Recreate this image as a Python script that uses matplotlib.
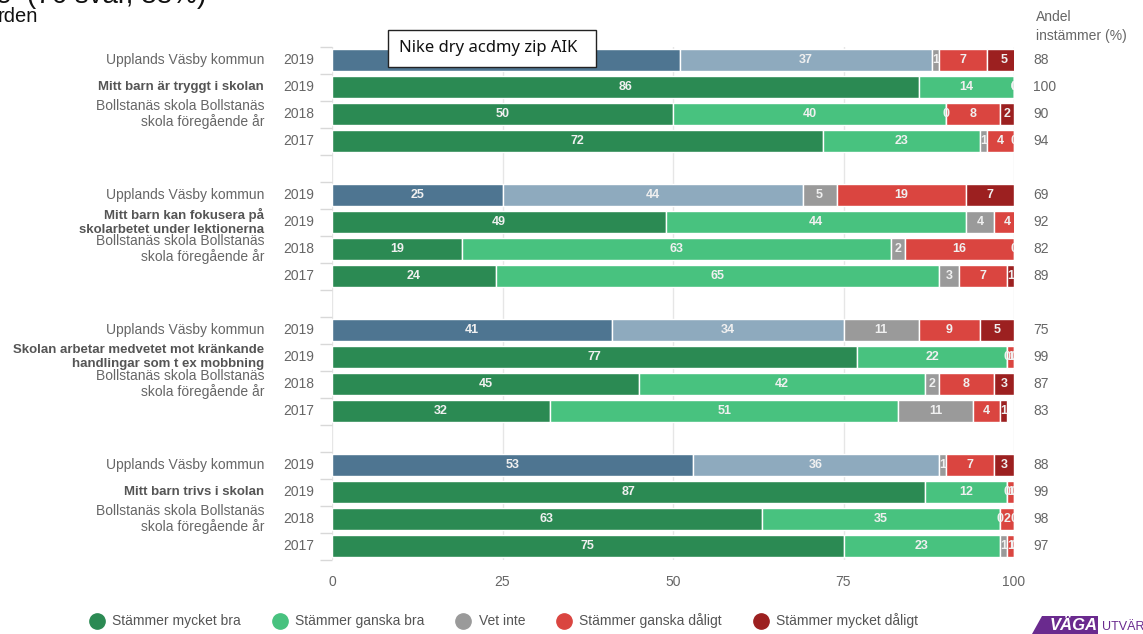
import numpy as np
import matplotlib
matplotlib.use("Agg")
import matplotlib.pyplot as plt
from matplotlib.lines import Line2D
from matplotlib.patches import Rectangle, Polygon

plt.rcParams['font.family'] = ['Liberation Sans', 'DejaVu Sans']

# data, 4 questions x 4 rows (kommun 2019, skola 2019, 2018, 2017)
mycket_bra = [51, 86, 50, 72, 25, 49, 19, 24, 41, 77, 45, 32, 53, 87, 63, 75]
ganska_bra = [37, 14, 40, 23, 44, 44, 63, 65, 34, 22, 42, 51, 36, 12, 35, 23]
vet_inte = [1, 0, 0, 1, 5, 4, 2, 3, 11, 0, 2, 11, 1, 0, 0, 1]
ganska_daligt = [7, 0, 8, 4, 19, 4, 16, 7, 9, 1, 8, 4, 7, 1, 2, 1]
mycket_daligt = [5, 0, 2, 0, 7, 0, 0, 1, 5, 0, 3, 1, 3, 0, 0, 0]
andel = [88, 100, 90, 94, 69, 92, 82, 89, 75, 99, 87, 83, 88, 99, 98, 97]
years = ["2019", "2019", "2018", "2017"]
questions = ["Mitt barn är tryggt i skolan",
             "Mitt barn kan fokusera på\nskolarbetet under lektionerna",
             "Skolan arbetar medvetet mot kränkande\nhandlingar som t ex mobbning",
             "Mitt barn trivs i skolan"]
kommun = "Upplands Väsby kommun"
skola = "Bollstanäs skola Bollstanäs\nskola föregående år"
legend_labels = ["Stämmer mycket bra", "Stämmer ganska bra", "Vet inte",
                 "Stämmer ganska dåligt", "Stämmer mycket dåligt"]

colors = ["#2b8a53", "#48c27f", "#9a9a9a", "#da4540", "#9c2020"]
kommun_colors = ["#4e7591", "#8eaabe"]
txt_gray = "#666666"

W, H = 1143, 634
fig = plt.figure(figsize=(W / 100, H / 100), dpi=100)
ax = fig.add_axes([332 / W, 1 - 559.5 / H, 682 / W, 513 / H])

series = [mycket_bra, ganska_bra, vet_inte, ganska_daligt, mycket_daligt]
ypos = []
for i in range(len(mycket_bra)):
    g, r = divmod(i, 4)
    ypos.append(g * 5 + r)

for i, y in enumerate(ypos):
    left = 0
    for k, s in enumerate(series):
        c = colors[k]
        if i % 4 == 0 and k < 2:
            c = kommun_colors[k]
        v = s[i]
        ax.barh(y, v, left=left, height=0.82, color=c, edgecolor="white",
                linewidth=1, zorder=2)
        ax.text(left + v / 2, y, str(v), ha="center", va="center",
                color="#f0f0f0", fontsize=9, fontweight="bold", zorder=3,
                clip_on=True)
        left += v

ax.set_xlim(0, 100)
ax.set_ylim(18.5, -0.5)
ax.set_xticks([0, 25, 50, 75, 100])
ax.set_xticklabels(["0", "25", "50", "75", "100"], color=txt_gray, fontsize=10)
ax.tick_params(axis="x", length=0, pad=11)
ax.grid(axis="x", color="#e6e6e6", linewidth=1, zorder=0)
ax.set_yticks([])
ax.set_yticks(np.arange(-0.5, 19, 1), minor=True)
ax.tick_params(axis="y", which="minor", length=9, color="#d8d8d8", width=1)
for sp in ax.spines.values():
    sp.set_visible(False)

tr = ax.get_yaxis_transform()
for i, y in enumerate(ypos):
    ax.text(-0.0264, y, years[i % 4], transform=tr, ha="right", va="center",
            color=txt_gray, fontsize=10)
    ax.text(1.028, y, str(andel[i]), transform=tr, ha="left", va="center",
            color=txt_gray, fontsize=10)
for g in range(4):
    y0 = g * 5
    ax.text(-0.0997, y0, kommun, transform=tr, ha="right", va="center",
            color=txt_gray, fontsize=10)
    ax.text(-0.0997, y0 + 2, skola, transform=tr, ha="right", va="center",
            color=txt_gray, fontsize=10, linespacing=1.15)
    ax.text(-0.0997, y0 + 1, questions[g], transform=tr, ha="right",
            va="center", color="#555555", fontsize=9.5, fontweight="bold",
            linespacing=1.3)

fig.text(1036 / W, 1 - 17 / H, "Andel", ha="left", va="center",
         color=txt_gray, fontsize=10)
fig.text(1036 / W, 1 - 36 / H, "instämmer (%)", ha="left", va="center",
         color=txt_gray, fontsize=10)

# title, cut at the top of the picture
fig.text(-4 / W, 1 - 3 / H, "e  (76 svar, 88%)", ha="left", va="baseline",
         fontsize=20, color="#111111")
fig.text(-2 / W, 1 - 22 / H, "rden", ha="left", va="baseline",
         fontsize=14.5, color="#111111")

# pasted label box
fig.patches.append(Rectangle((388 / W, 1 - 67 / H), 208 / W, 37 / H,
                             transform=fig.transFigure, facecolor="white",
                             edgecolor="#222222", linewidth=1, zorder=10))
fig.text(399 / W, 1 - 48 / H, "Nike dry acdmy zip AIK", ha="left",
         va="center", fontsize=12, family="Noto Sans", color="#111111",
         zorder=11)

# legend
handles = [Line2D([], [], marker="o", linestyle="", markersize=11,
                  markerfacecolor=c, markeredgecolor=c) for c in colors]
fig.legend(handles, legend_labels, loc="center", ncol=5,
           bbox_to_anchor=(504 / W, 1 - 621 / H), frameon=False,
           handletextpad=0.6, columnspacing=2.3, handlelength=1.0,
           labelcolor="#555555", fontsize=10)

# logo in the corner
fig.patches.append(Polygon([(1032 / W, 0), (1042 / W, 18 / H), (1098 / W, 18 / H),
                            (1098 / W, 0)], closed=True,
                           transform=fig.transFigure, facecolor="#6a2a8e",
                           edgecolor="none"))
fig.text(1050 / W, 1 / H, "VÄGA", ha="left", va="bottom", fontsize=12,
         fontweight="bold", style="italic", color="white")
fig.text(1102 / W, 1 / H, "UTVÄRDERING", ha="left", va="bottom", fontsize=9,
         color="#6a2a8e")

fig.savefig("out.png", dpi=100)
